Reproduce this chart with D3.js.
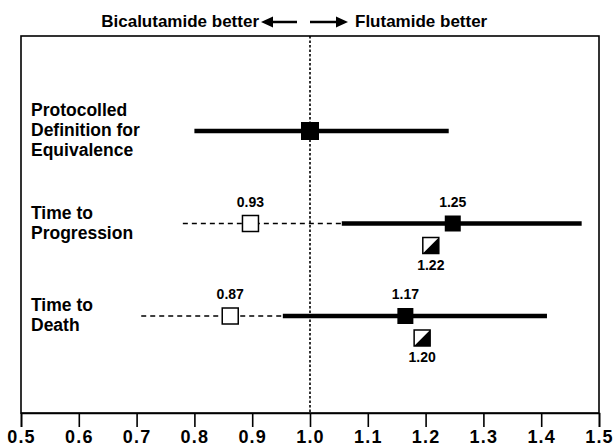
<!DOCTYPE html>
<meta charset="utf-8">
<script src="https://d3js.org/d3.v7.min.js"></script>
<style>
  body { margin: 0; background: #fff; }
  text { font-family: "Liberation Sans", Arial, sans-serif; font-weight: bold; fill: #000; }
</style>
<div id="chart"></div>
<script>
  // rows of the forest plot
  var rows = ["Protocolled\nDefinition for\nEquivalence", "Time to\nProgression", "Time to\nDeath"];

  // flutamide comparison (solid line + filled square)
  var solidLow = [0.80, 1.055, 0.953];
  var solidHigh = [1.24, 1.47, 1.41];
  var solidEst = [1.0, 1.247, 1.165];
  var solidLabels = [null, "1.25", "1.17"];

  // bicalutamide comparison (dashed line + open square)
  var dashLow = [null, 0.78, 0.708];
  var dashHigh = [null, 1.055, 0.953];
  var openEst = [null, 0.897, 0.862];
  var openLabels = [null, "0.93", "0.87"];

  // half filled squares below
  var halfEst = [null, 1.209, 1.194];
  var halfLabels = [null, "1.22", "1.20"];

  var tickValues = [0.5, 0.6, 0.7, 0.8, 0.9, 1.0, 1.1, 1.2, 1.3, 1.4, 1.5];

  var width = 614, height = 448;
  var plotTop = 36, plotBottom = 413;

  var svg = d3.select("#chart").append("svg")
      .attr("width", width)
      .attr("height", height);

  var x = d3.scaleLinear().domain([0.5, 1.5]).range([21, 599]);
  var y = d3.scalePoint().domain(d3.range(rows.length)).range([131, 316]);

  // frame
  svg.append("rect")
      .attr("x", x(0.5)).attr("y", plotTop)
      .attr("width", x(1.5) - x(0.5)).attr("height", plotBottom - plotTop)
      .attr("fill", "none").attr("stroke", "#000").attr("stroke-width", 1.6);

  // axis
  var axis = svg.append("g")
      .attr("transform", "translate(0," + plotBottom + ")")
      .call(d3.axisBottom(x).tickValues(tickValues).tickSize(14).tickFormat(d3.format(".1f")));
  axis.select(".domain").attr("stroke-width", 1.6);
  axis.selectAll(".tick line").attr("stroke-width", 1.6);
  axis.selectAll(".tick text")
      .attr("y", 17).attr("dy", "0.71em")
      .attr("font-size", 18).attr("font-family", null)
      .attr("letter-spacing", 1.2);

  // reference line at 1.0
  svg.append("line")
      .attr("x1", x(1)).attr("x2", x(1))
      .attr("y1", plotTop).attr("y2", plotBottom)
      .attr("stroke", "#000").attr("stroke-width", 1.6)
      .attr("stroke-dasharray", "2.5,2");

  // header
  svg.append("text").attr("x", 259).attr("y", 27).attr("text-anchor", "end")
      .attr("font-size", 17).text("Bicalutamide better");
  svg.append("text").attr("x", 355).attr("y", 27)
      .attr("font-size", 17).text("Flutamide better");
  svg.append("line").attr("x1", 297).attr("x2", 270).attr("y1", 22).attr("y2", 22)
      .attr("stroke", "#000").attr("stroke-width", 2.5);
  svg.append("path").attr("d", "M261,22L273,16.5L273,27.5Z");
  svg.append("line").attr("x1", 310).attr("x2", 338).attr("y1", 22).attr("y2", 22)
      .attr("stroke", "#000").attr("stroke-width", 2.5);
  svg.append("path").attr("d", "M348,22L336,16.5L336,27.5Z");

  // row labels
  rows.forEach(function(r, i) {
    var lines = r.split("\n");
    var t = svg.append("text").attr("font-size", 17.5);
    lines.forEach(function(l, j) {
      t.append("tspan")
          .attr("x", 31)
          .attr("y", y(i) + 5 - (lines.length - 1) * 10 + j * 20)
          .text(l);
    });
  });

  var sq = 16;

  rows.forEach(function(r, i) {
    var cy = y(i);

    // dashed bicalutamide interval
    if (dashLow[i] != null) {
      svg.append("line")
          .attr("x1", x(dashLow[i])).attr("x2", x(dashHigh[i]))
          .attr("y1", cy).attr("y2", cy)
          .attr("stroke", "#000").attr("stroke-width", 1.6)
          .attr("stroke-dasharray", "5,4");
      svg.append("rect")
          .attr("x", x(openEst[i]) - sq / 2).attr("y", cy - sq / 2)
          .attr("width", sq).attr("height", sq)
          .attr("fill", "#fff").attr("stroke", "#000").attr("stroke-width", 1.5);
      svg.append("text")
          .attr("x", x(openEst[i])).attr("y", cy - 17)
          .attr("text-anchor", "middle").attr("font-size", 14)
          .text(openLabels[i]);
    }

    // solid flutamide interval
    svg.append("line")
        .attr("x1", x(solidLow[i])).attr("x2", x(solidHigh[i]))
        .attr("y1", cy).attr("y2", cy)
        .attr("stroke", "#000").attr("stroke-width", 4.5);
    var s = i === 0 ? 18 : sq;
    svg.append("rect")
        .attr("x", x(solidEst[i]) - s / 2).attr("y", cy - s / 2)
        .attr("width", s).attr("height", s)
        .attr("fill", "#000");
    if (solidLabels[i]) {
      svg.append("text")
          .attr("x", x(solidEst[i])).attr("y", cy - 17)
          .attr("text-anchor", "middle").attr("font-size", 14)
          .text(solidLabels[i]);
    }

    // half filled square
    if (halfEst[i] != null) {
      var hx = x(halfEst[i]) - sq / 2, hy = cy + 22 - sq / 2;
      svg.append("rect")
          .attr("x", hx).attr("y", hy).attr("width", sq).attr("height", sq)
          .attr("fill", "#fff").attr("stroke", "#000").attr("stroke-width", 1.5);
      svg.append("path")
          .attr("d", "M" + hx + "," + (hy + sq) + "L" + (hx + sq) + "," + hy + "L" + (hx + sq) + "," + (hy + sq) + "Z")
          .attr("fill", "#000");
      svg.append("text")
          .attr("x", x(halfEst[i])).attr("y", cy + 22 + 24)
          .attr("text-anchor", "middle").attr("font-size", 14)
          .text(halfLabels[i]);
    }
  });
</script>
